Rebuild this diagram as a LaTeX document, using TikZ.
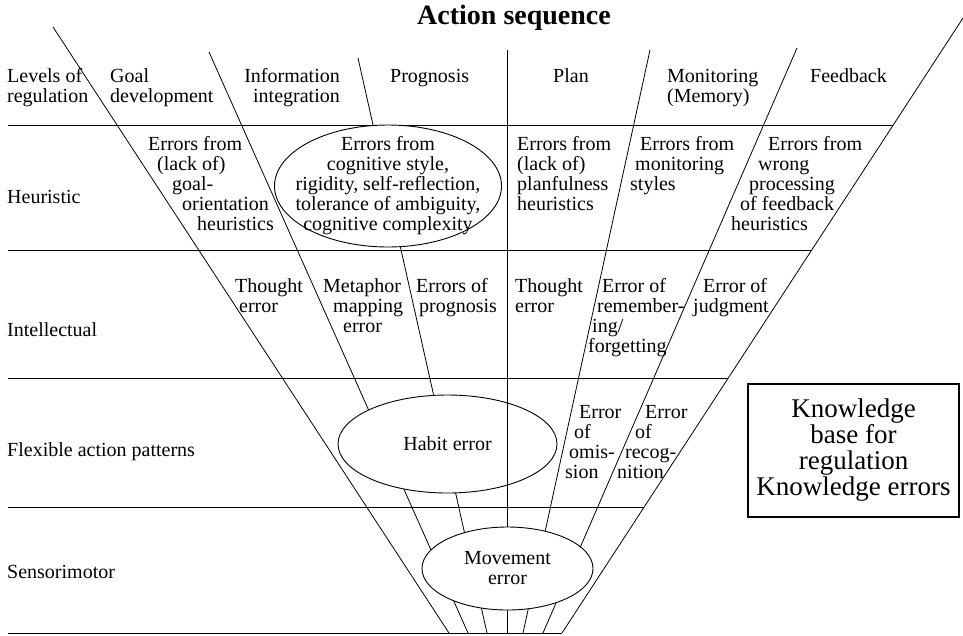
\documentclass[tikz,border=0pt]{standalone}
\usepackage{fontspec}
\setmainfont{Liberation Serif}
\usetikzlibrary{shapes.geometric}
\newcommand{\bodyfont}{\fontsize{20}{20}\selectfont}
\newcommand{\boxfont}{\fontsize{27}{26}\selectfont}
\newcommand{\headfont}{\fontsize{28}{28}\selectfont\bfseries}
\begin{document}
\begin{tikzpicture}[x=1pt,y=-1pt,
  rule/.style={line width=1pt},
  fan/.style={line width=0.8pt},
  oval/.style={draw, ellipse, fill=white, line width=0.9pt, inner sep=0pt,
               font=\bodyfont, align=center},
  txt/.style={font=\bodyfont, inner sep=0pt, anchor=base west},
  txtr/.style={txt, anchor=base east},
  txtc/.style={font=\bodyfont, inner sep=0pt, align=center},
  kbox/.style={draw, line width=1.8pt, inner sep=0pt, font=\boxfont, align=center}]
\useasboundingbox (0,0) rectangle (963,635);

% level boundaries (left end, right end on the outer fan line)
\coordinate (h1l) at (8,125);  \coordinate (h1r) at (893.2,125);
\coordinate (h2l) at (8,250);  \coordinate (h2r) at (811.7,250);
\coordinate (h3l) at (8,378);  \coordinate (h3r) at (728.3,378);
\coordinate (h4l) at (8,507);  \coordinate (h4r) at (644.2,507);
\coordinate (h5l) at (8,633);  \coordinate (h5r) at (562,633);
\foreach \i in {1,...,5} \draw[rule] (h\i l) -- (h\i r);

% fan of sequence lines converging at the bottom
\coordinate (a1) at (53,27);   \coordinate (b1) at (449,633);
\coordinate (a2) at (209,52);  \coordinate (b2) at (468,633);
\coordinate (a3) at (358,58);  \coordinate (b3) at (487,633);
\coordinate (a4) at (507,50);  \coordinate (b4) at (507,633);
\coordinate (a5) at (650,50);  \coordinate (b5) at (523,633);
\coordinate (a6) at (797,48);  \coordinate (b6) at (543,633);
\coordinate (a7) at (963,18);  \coordinate (b7) at (562,633);
\foreach \i in {1,...,7} \draw[fan] (a\i) -- (b\i);

% ovals
\node[oval, minimum width=227pt, minimum height=122pt] (cog) at (388,186) {};
\node[txtc] (cogtext) at (cog.center) {Errors from\\cognitive style,\\rigidity, self-reflection,\\tolerance of ambiguity,\\cognitive complexity};
\node[oval, minimum width=219pt, minimum height=98pt] (habit) at (447.5,444) {Habit error};
\coordinate (v3) at (507,378); \coordinate (v4) at (507,507);
\draw[fan] (v3) -- (v4);
\node[oval, minimum width=171pt, minimum height=83pt] (move) at (507.5,568.5) {Movement\\error};

% title
\node[font=\headfont, inner sep=0pt, anchor=base] (title) at (514,24) {Action sequence};

% header row
\node[txt] (lev1) at (7,82) {Levels of};
\node[txt] (lev2) at (7,102) {regulation};
\node[txt] (goal1) at (110,82) {Goal};
\node[txt] (goal2) at (110,102) {development};
\node[txtr] (info1) at (340,82) {Information};
\node[txtr] (info2) at (340,102) {integration};
\node[txt] (prog) at (390,82) {Prognosis};
\node[txt] (plan) at (553,82) {Plan};
\node[txt] (mon1) at (667,82) {Monitoring};
\node[txt] (mon2) at (667,102) {(Memory)};
\node[txt] (feed) at (810,82) {Feedback};

% heuristic level
\node[txt] (heu) at (7,203) {Heuristic};
\node[txt] (hg1) at (148,150) {Errors from};
\node[txt] (hg2) at (157,170) {(lack of)};
\node[txt] (hg3) at (172,190) {goal-};
\node[txt] (hg4) at (182,210) {orientation};
\node[txt] (hg5) at (197,230) {heuristics};
\node[txt] (hp1) at (517,150) {Errors from};
\node[txt] (hp2) at (517,170) {(lack of)};
\node[txt] (hp3) at (517,190) {planfulness};
\node[txt] (hp4) at (517,210) {heuristics};
\node[txt] (hm1) at (640,150) {Errors from};
\node[txt] (hm2) at (635,170) {monitoring};
\node[txt] (hm3) at (630,190) {styles};
\node[txt] (hf1) at (768,150) {Errors from};
\node[txt] (hf2) at (758,170) {wrong};
\node[txt] (hf3) at (749,190) {processing};
\node[txt] (hf4) at (740,210) {of feedback};
\node[txt] (hf5) at (731,230) {heuristics};

% intellectual level
\node[txt] (int) at (7,336) {Intellectual};
\node[txt] (ig1) at (235,292) {Thought};
\node[txt] (ig2) at (239,312) {error};
\node[txt] (ii1) at (323,292) {Metaphor};
\node[txt] (ii2) at (333,312) {mapping};
\node[txt] (ii3) at (343,332) {error};
\node[txt] (ip1) at (416,292) {Errors of};
\node[txt] (ip2) at (419,312) {prognosis};
\node[txt] (il1) at (515,292) {Thought};
\node[txt] (il2) at (515,312) {error};
\node[txt] (im1) at (602,292) {Error of};
\node[txt] (im2) at (597,312) {remember-};
\node[txt] (im3) at (592,332) {ing/};
\node[txt] (im4) at (588,352) {forgetting};
\node[txt] (if1) at (703,292) {Error of};
\node[txt] (if2) at (693,312) {judgment};

% flexible action patterns
\node[txt] (flex) at (7,456) {Flexible action patterns};
\node[txt] (fo1) at (579,418) {Error};
\node[txt] (fo2) at (574,438) {of};
\node[txt] (fo3) at (569,458) {omis-};
\node[txt] (fo4) at (565,478) {sion};
\node[txt] (fr1) at (645,418) {Error};
\node[txt] (fr2) at (635,438) {of};
\node[txt] (fr3) at (625,458) {recog-};
\node[txt] (fr4) at (617,478) {nition};

% sensorimotor level
\node[txt] (sens) at (7,578) {Sensorimotor};

% knowledge base
\node[kbox, minimum width=211pt, minimum height=133pt] (kb) at (853.5,450.5)
  {Knowledge\\base for\\regulation\\Knowledge errors};
\end{tikzpicture}
\end{document}
